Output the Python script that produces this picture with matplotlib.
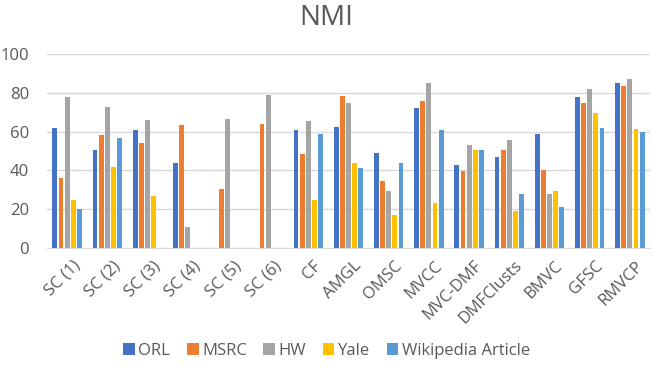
import matplotlib
matplotlib.use("Agg")
import matplotlib.pyplot as plt
import matplotlib.transforms as mtransforms
import numpy as np

plt.rcParams['font.family'] = ['Open Sans', 'DejaVu Sans']

categories = ["SC (1)", "SC (2)", "SC (3)", "SC (4)", "SC (5)", "SC (6)", "CF", "AMGL",
              "OMSC", "MVCC", "MVC-DMF", "DMFClusts", "BMVC", "GFSC", "RMVCP"]
series_names = ["ORL", "MSRC", "HW", "Yale", "Wikipedia Article"]
orl  = [62, 50.5, 61, 44, 0, 0, 61, 62.5, 49, 72, 43, 47, 59, 78, 85]
msrc = [36, 58, 54, 63.5, 30.5, 64, 48.5, 78.5, 34.5, 76, 39.5, 50.5, 40, 74.5, 83.5]
hw   = [78, 72.5, 66, 11, 66.5, 79, 65.5, 75, 29.5, 85, 53, 55.5, 28, 82, 87]
yale = [25, 41.5, 27, 0, 0, 0, 24.5, 44, 17, 23, 50.5, 19, 29.5, 69.5, 61.5]
wiki = [20, 56.5, 0, 0, 0, 0, 59, 41, 44, 61, 50.5, 28, 21, 62, 60]
colors = ["#4472C4", "#ED7D31", "#A5A5A5", "#FFC000", "#5B9BD5"]

fig = plt.figure(figsize=(6.53, 3.77), dpi=100)
ax = fig.add_axes([47/653, 1-248/377, (650-47)/653, (248-54)/377])

x = np.arange(len(categories))
pitch = 0.152
width = 0.12
for i, (vals, name, c) in enumerate(zip([orl, msrc, hw, yale, wiki], series_names, colors)):
    ax.bar(x + (i-2)*pitch, vals, width=width, color=c, label=name, zorder=3)

ax.set_xlim(-0.5, len(categories)-0.5)
ax.set_ylim(0, 100)
ax.set_yticks([0, 20, 40, 60, 80, 100])
ax.yaxis.grid(True, color="#D9D9D9", linewidth=1, zorder=0)
for s in ["top", "right", "left"]:
    ax.spines[s].set_visible(False)
ax.spines["bottom"].set_color("#D9D9D9")
ax.tick_params(axis="both", length=0, colors="#595959")
ax.tick_params(axis="y", pad=13, labelsize=12)
ax.set_xticks(x)
ax.set_xticklabels(categories, rotation=45, ha="right", va="top",
                   rotation_mode="anchor", fontsize=12)
ax.tick_params(axis="x", pad=7)
offset = mtransforms.ScaledTranslation(5/100, 0, fig.dpi_scale_trans)
for lab in ax.get_xticklabels():
    lab.set_transform(lab.get_transform() + offset)

fig.suptitle("NMI", x=0.5, y=0.99, fontsize=20, color="#595959")
fig.legend(loc="center", bbox_to_anchor=(0.5, 1-351/377), ncol=5, frameon=False,
           handlelength=0.7, handleheight=0.7, handletextpad=0.2, columnspacing=1.0,
           fontsize=12, labelcolor="#595959")

fig.savefig("out.png", dpi=100)
